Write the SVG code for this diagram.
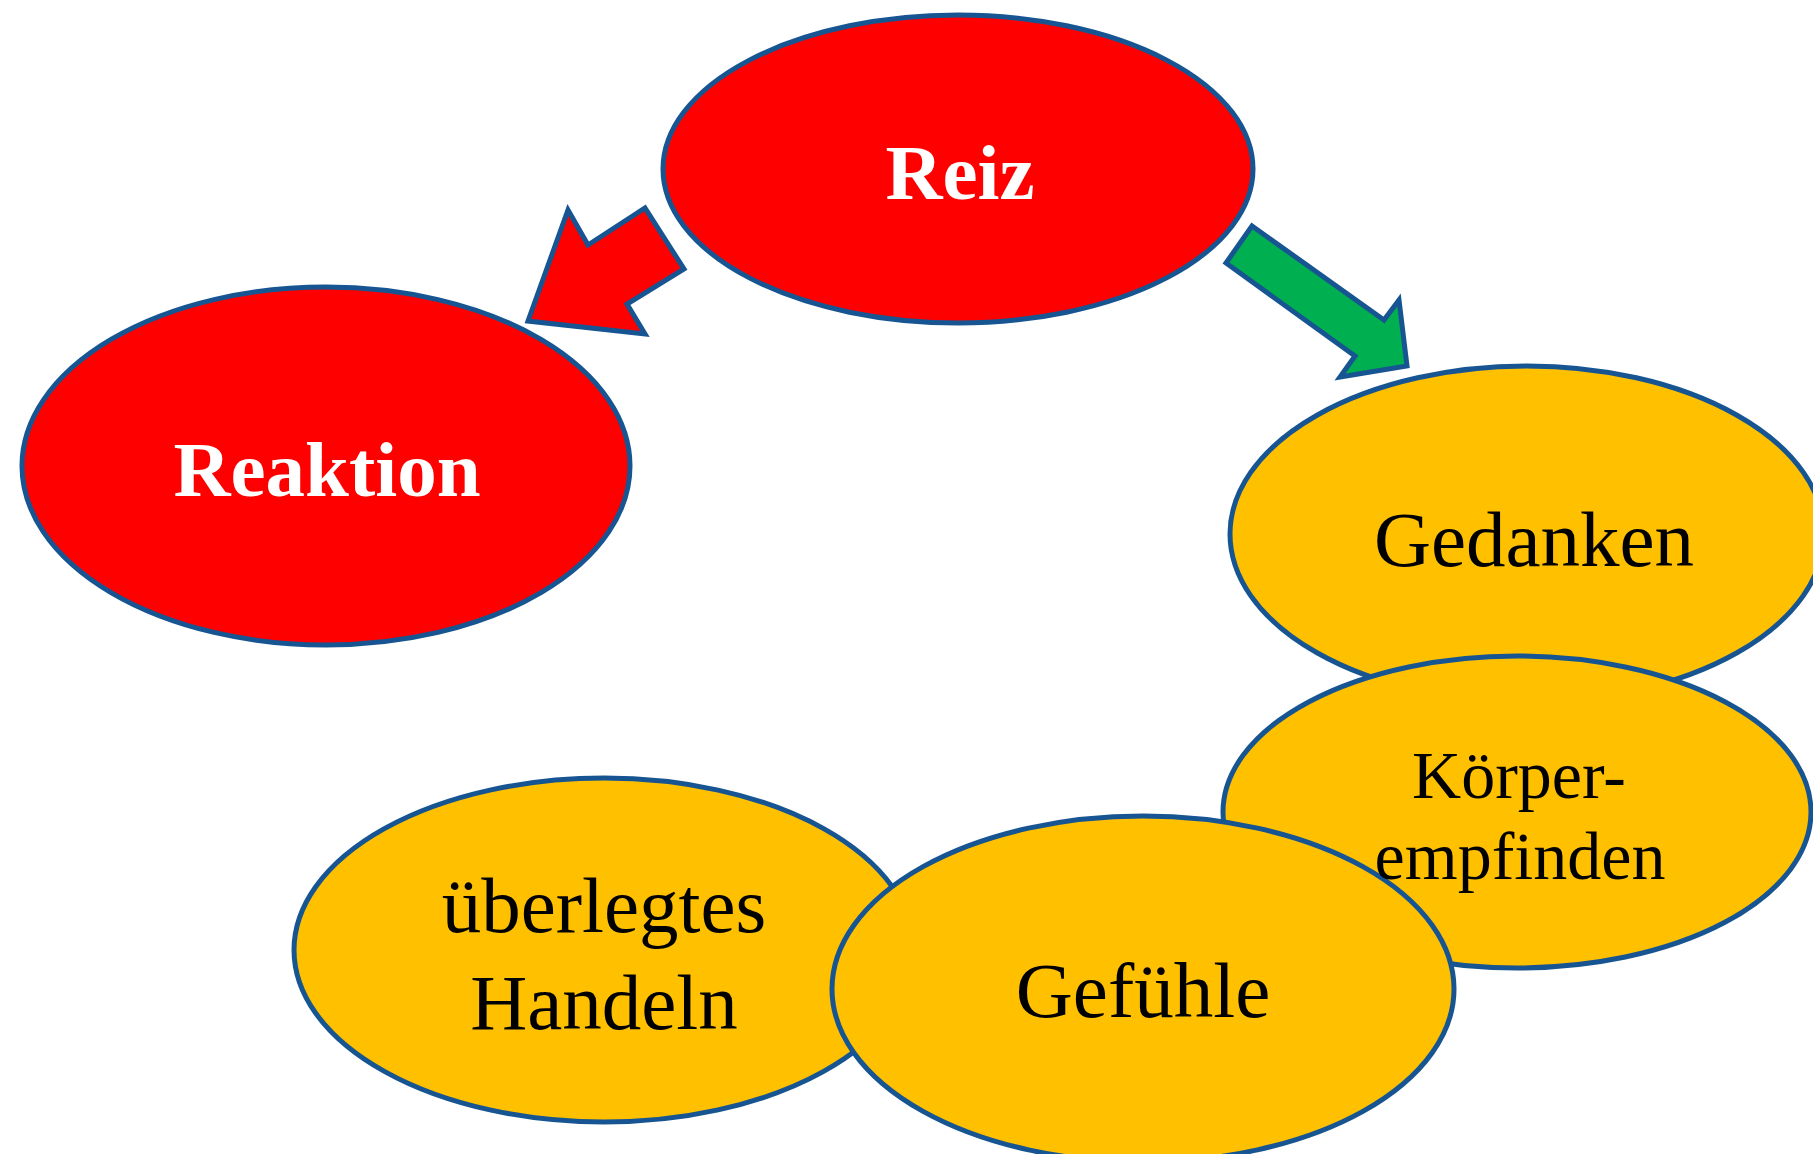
<svg xmlns="http://www.w3.org/2000/svg" width="1813" height="1154" viewBox="0 0 1813 1154">
<style>
.red{fill:#FE0000;stroke:#175592;stroke-width:5}
.org{fill:#FFC000;stroke:#175592;stroke-width:5}
.arr{stroke:#175592;stroke-width:5;stroke-linejoin:miter}
.tw{font-family:"Liberation Serif","Times New Roman",serif;font-weight:bold;fill:#FFFFFF;text-anchor:middle;font-size:79px}
.tb{font-family:"Liberation Serif","Times New Roman",serif;fill:#000000;text-anchor:middle;font-size:79px}
.tk{font-family:"Liberation Serif","Times New Roman",serif;fill:#000000;text-anchor:middle;font-size:68px}
</style>
<rect width="1813" height="1154" fill="#FFFFFF"/>
<g id="connectors">
<polygon class="arr" fill="#FE0000" points="528,321 568,210 588,245 645,208 684,269 627,304 645,334"/>
<polygon class="arr" fill="#00B050" points="1252,226 1226,263 1355,356 1340,377 1407,366 1399,300 1384,320"/>
</g>
<g id="reiz">
<ellipse class="red" cx="958" cy="169" rx="295" ry="154"/>
<text class="tw" x="960" y="199">Reiz</text>
</g>
<g id="reaktion">
<ellipse class="red" cx="326" cy="466" rx="304" ry="179"/>
<text class="tw" x="327" y="496">Reaktion</text>
</g>
<g id="gedanken">
<ellipse class="org" cx="1527" cy="534" rx="297" ry="168"/>
<text class="tb" x="1534" y="566">Gedanken</text>
</g>
<g id="koerperempfinden">
<ellipse class="org" cx="1517" cy="812" rx="294" ry="156"/>
</g>
<g id="ueberlegtes-handeln">
<ellipse class="org" cx="604" cy="950" rx="310" ry="172"/>
<text class="tb" x="604" y="932">überlegtes</text>
<text class="tb" x="604" y="1029">Handeln</text>
</g>
<g id="gefuehle">
<ellipse class="org" cx="1143" cy="989" rx="311" ry="173"/>
<text class="tb" x="1143" y="1017">Gefühle</text>
</g>
<g id="koerperempfinden-label">
<text class="tk" x="1519" y="798">Körper-</text>
<text class="tk" x="1520" y="879">empfinden</text>
</g>
</svg>
